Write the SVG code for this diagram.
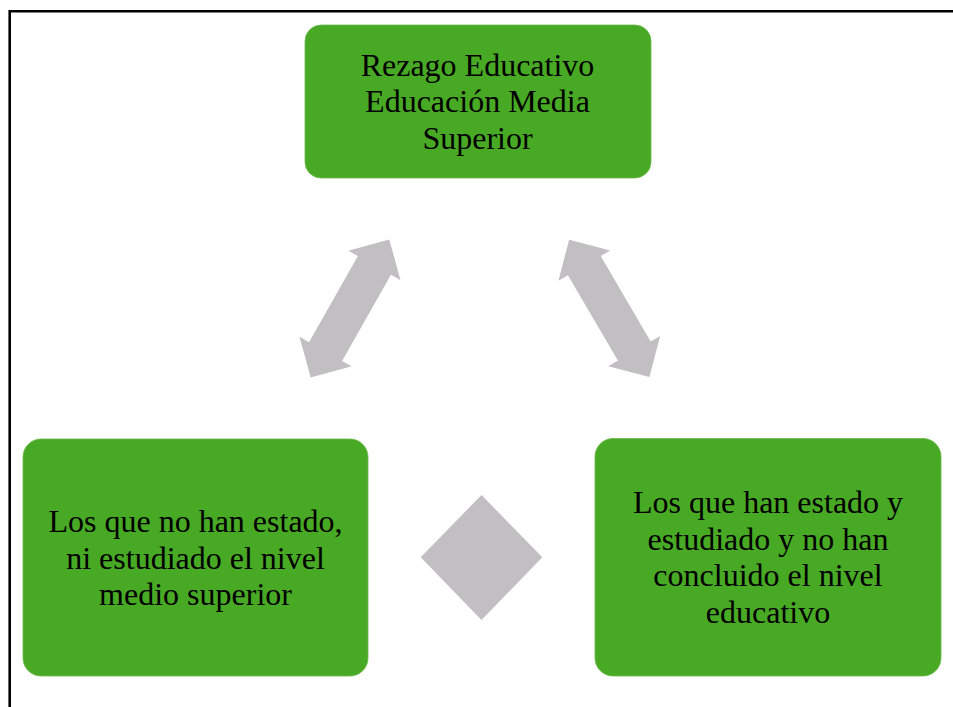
<svg xmlns="http://www.w3.org/2000/svg" width="953" height="707" viewBox="0 0 953 707">
<defs>
<style>
.box{fill:#48A924;stroke:#6DB94E;stroke-width:0.8}
.lbl{font-family:"Liberation Serif","Times New Roman",serif;font-size:32px;fill:#000;text-anchor:middle}
.gray{fill:#C1BFC1}
</style>
<path id="dblarrow" d="M0,0 L30,-30 L30,-19 L129,-19 L129,-30 L159,0 L129,30 L129,19 L30,19 L30,30 Z"/>
</defs>
<rect x="0" y="0" width="953" height="707" fill="#FFFFFF"/>
<path d="M9.7,707 V11.3 H953" fill="none" stroke="#000" stroke-width="2.6"/>
<g id="connectors">
<use href="#dblarrow" class="gray" transform="translate(350,308.5) rotate(-60.4) translate(-79.5,0)"/>
<use href="#dblarrow" class="gray" transform="translate(609.3,308.3) rotate(59.7) translate(-79.5,0)"/>
<polygon class="gray" points="481.5,495 542.3,557.3 481.5,620 420.7,557.3"/>
</g>
<g id="node-top">
<rect class="box" x="305" y="25" width="346" height="153" rx="16"/>
<text class="lbl" x="477.5" y="75.5">Rezago Educativo</text>
<text class="lbl" x="477.5" y="112">Educación Media</text>
<text class="lbl" x="477.5" y="148.5">Superior</text>
</g>
<g id="node-left">
<rect class="box" x="23" y="439" width="345" height="237" rx="18"/>
<text class="lbl" x="195.5" y="532">Los que no han estado,</text>
<text class="lbl" x="195.5" y="568.5">ni estudiado el nivel</text>
<text class="lbl" x="195.5" y="605">medio superior</text>
</g>
<g id="node-right">
<rect class="box" x="595" y="438.5" width="346" height="237.5" rx="18"/>
<text class="lbl" x="768" y="513">Los que han estado y</text>
<text class="lbl" x="768" y="549.5">estudiado y no han</text>
<text class="lbl" x="768" y="586">concluido el nivel</text>
<text class="lbl" x="768" y="622.5">educativo</text>
</g>
</svg>
